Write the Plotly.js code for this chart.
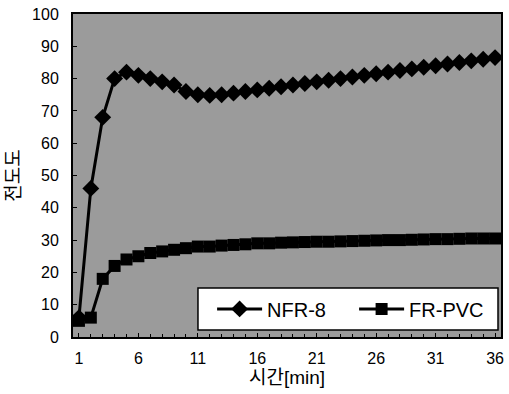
<!DOCTYPE html>
<html>
<head>
<meta charset="utf-8">
<script src="https://cdn.plot.ly/plotly-3.0.1.min.js"></script>
<style>html,body{margin:0;padding:0;background:#fff;}#chart{width:509px;height:394px;}</style>
</head>
<body>
<div id="chart"></div>
<script>
const times = [1,2,3,4,5,6,7,8,9,10,11,12,13,14,15,16,17,18,19,20,21,22,23,24,25,26,27,28,29,30,31,32,33,34,35,36];
const nfr8 = [6,46,68,80,82,81,80,79,78,76,75,74.8,75,75.5,76,76.5,77,77.5,78,78.5,79,79.5,80,80.5,81,81.5,82,82.5,83,83.5,84,84.5,85,85.5,86,86.5];
const frpvc = [5,6,18,22,24,25,26,26.5,27,27.5,28,28,28.3,28.5,28.7,29,29,29.2,29.3,29.4,29.5,29.5,29.6,29.7,29.8,29.9,30,30,30.1,30.2,30.3,30.3,30.4,30.5,30.5,30.5];
const xTicks = [1,6,11,16,21,26,31,36];
const yTicks = [0,10,20,30,40,50,60,70,80,90,100];
const seriesNames = ['NFR-8','FR-PVC'];
const xTitle = '시간[min]';
const yTitle = '전도도';

const font = 'Liberation Sans, Arial, Noto Sans CJK KR, sans-serif';
const traces = [
  {x: times, y: nfr8, name: seriesNames[0], type: 'scatter', mode: 'lines+markers',
   line: {color: '#000', width: 3}, marker: {symbol: 'diamond', size: 13, color: '#000'}},
  {x: times, y: frpvc, name: seriesNames[1], type: 'scatter', mode: 'lines+markers',
   line: {color: '#000', width: 3}, marker: {symbol: 'square', size: 12, color: '#000'}}
];
const layout = {
  width: 509, height: 394,
  margin: {l: 73, r: 8, t: 14, b: 57},
  paper_bgcolor: '#fff',
  plot_bgcolor: '#9b9b9b',
  font: {family: font, size: 16, color: '#000'},
  showlegend: true,
  legend: {orientation: 'h', x: 0.325, xanchor: 'left', y: 0.087, yanchor: 'middle',
    bgcolor: 'rgba(0,0,0,0)', borderwidth: 0, font: {size: 20, family: font},
    itemwidth: 45, entrywidth: 82, traceorder: 'normal'},
  shapes: [{type: 'rect', xref: 'paper', yref: 'paper', x0: 0.292, x1: 0.993, y0: 0.0217, y1: 0.152,
    fillcolor: '#fff', line: {color: '#000', width: 1.5}, layer: 'above'}],
  xaxis: {range: [0.5, 36.5], tickvals: xTicks, ticktext: xTicks.map(String),
    showgrid: false, zeroline: false, showline: true, linecolor: '#000', linewidth: 2, mirror: true,
    ticks: 'inside', ticklen: 4, tickcolor: '#000',
    minor: {dtick: 1, ticks: 'inside', ticklen: 3, tickcolor: '#000', tick0: 1},
    tickfont: {size: 16}, ticklabelstandoff: 6,
    title: {text: xTitle, font: {size: 19, family: font}, standoff: 2}},
  yaxis: {range: [0, 100], tickvals: yTicks, ticktext: yTicks.map(String),
    showgrid: false, zeroline: false, showline: true, linecolor: '#000', linewidth: 2, mirror: true,
    ticks: 'inside', ticklen: 4, tickcolor: '#000', tickfont: {size: 16}, ticklabelstandoff: 9,
    title: {text: yTitle, font: {size: 19, family: font}, standoff: 6}}
};
Plotly.newPlot('chart', traces, layout, {displayModeBar: false, staticPlot: true});
</script>
</body>
</html>
